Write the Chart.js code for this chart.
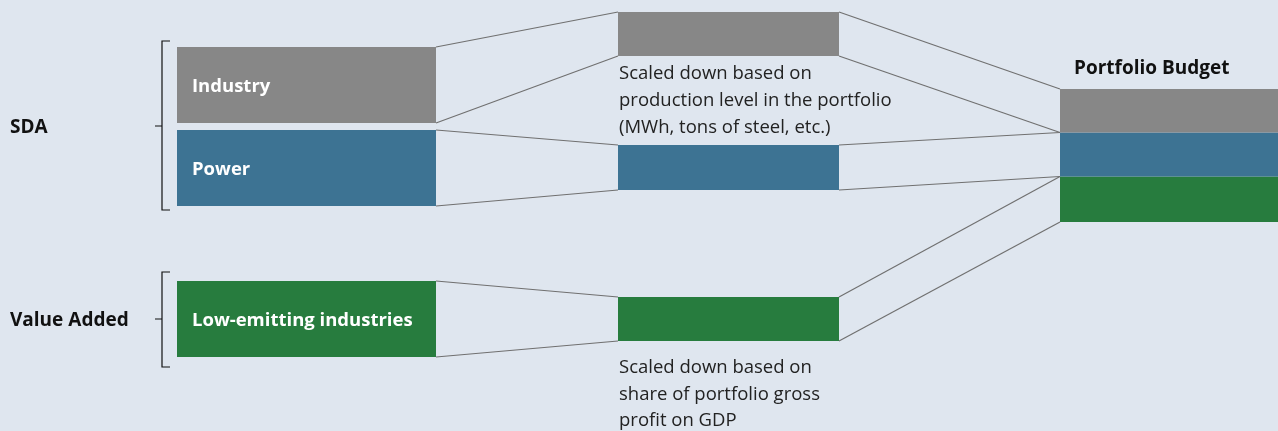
<!DOCTYPE html>
<html>
<head>
<meta charset="utf-8">
<script src="https://cdn.jsdelivr.net/npm/chart.js@4.4.1/dist/chart.umd.min.js"></script>
<style>
  html, body { margin: 0; background: #dfe6ef; }
  #wrap { width: 1278px; height: 431px; position: relative; }
</style>
</head>
<body>
<div id="wrap"><canvas id="chart"></canvas></div>
<script>
// sectors, top to bottom
const sectors = ['Industry', 'Power', 'Low-emitting industries'];
const sectorColors = ['#878787', '#3d7393', '#277c3e'];

// block extents in diagram units (x range per column, y top/bottom per sector)
const sectorX = [177, 436];
const sectorTop = [47, 130, 281];
const sectorBottom = [123, 206, 357];

const scaledX = [618, 839];
const scaledTop = [12, 145, 297];
const scaledBottom = [56, 190, 341];

const budgetX = [1060, 1278];
const budgetTop = [89, 132.5, 176.5];
const budgetBottom = [132.5, 176.5, 222];

// approaches (brackets on the left)
const groups = ['SDA', 'Value Added'];
const groupTop = [41, 272];
const groupBottom = [210, 367];
const groupMid = [126, 319];

const budgetTitle = 'Portfolio Budget';
const noteSda = ['Scaled down based on', 'production level in the portfolio', '(MWh, tons of steel, etc.)'];
const noteVa = ['Scaled down based on', 'share of portfolio gross', 'profit on GDP'];

const LINE = '#707070';
const FONT = '"Open Sans", "Noto Sans", sans-serif';

function rect(x, top, bottom, color) {
  const base = { type: 'line', borderWidth: 0, pointRadius: 0, tension: 0, backgroundColor: color, borderColor: color };
  return [
    { ...base, data: [{ x: x[0], y: top }, { x: x[1], y: top }], fill: false },
    { ...base, data: [{ x: x[0], y: bottom }, { x: x[1], y: bottom }], fill: '-1' }
  ];
}

function seg(x0, y0, x1, y1, color, width) {
  return { type: 'line', data: [{ x: x0, y: y0 }, { x: x1, y: y1 }], borderColor: color, borderWidth: width, pointRadius: 0, fill: false };
}

const datasets = [];
sectors.forEach((s, i) => {
  datasets.push(...rect(sectorX, sectorTop[i], sectorBottom[i], sectorColors[i]));
  datasets.push(...rect(scaledX, scaledTop[i], scaledBottom[i], sectorColors[i]));
  datasets.push(...rect(budgetX, budgetTop[i], budgetBottom[i], sectorColors[i]));
});

// connectors: sector -> scaled -> budget
sectors.forEach((s, i) => {
  datasets.push(seg(sectorX[1], sectorTop[i], scaledX[0], scaledTop[i], LINE, 1.2));
  datasets.push(seg(sectorX[1], sectorBottom[i], scaledX[0], scaledBottom[i], LINE, 1.2));
  datasets.push(seg(scaledX[1], scaledTop[i], budgetX[0], budgetTop[i], LINE, 1.2));
  datasets.push(seg(scaledX[1], scaledBottom[i], budgetX[0], budgetBottom[i], LINE, 1.2));
});

// brackets
groups.forEach((g, i) => {
  datasets.push({
    type: 'line',
    data: [
      { x: 170, y: groupTop[i] }, { x: 162, y: groupTop[i] },
      { x: 162, y: groupMid[i] }, { x: 155, y: groupMid[i] }, { x: 162, y: groupMid[i] },
      { x: 162, y: groupBottom[i] }, { x: 170, y: groupBottom[i] }
    ],
    borderColor: '#111', borderWidth: 1.2, pointRadius: 0, fill: false
  });
});

const textPlugin = {
  id: 'texts',
  afterDatasetsDraw(chart) {
    const { ctx, scales: { x, y } } = chart;
    const put = (txt, px, py, font, color) => {
      ctx.font = font;
      ctx.fillStyle = color;
      ctx.fillText(txt, x.getPixelForValue(px), y.getPixelForValue(py + 2));
    };
    ctx.save();
    ctx.textAlign = 'left';
    ctx.textBaseline = 'middle';
    sectors.forEach((s, i) => {
      put(s, sectorX[0] + 15, (sectorTop[i] + sectorBottom[i]) / 2, 'bold 18.5px ' + FONT, '#ffffff');
    });
    groups.forEach((g, i) => put(g, 10, groupMid[i], 'bold 19px ' + FONT, '#111111'));
    put(budgetTitle, 1074, 67, 'bold 19px ' + FONT, '#111111');
    noteSda.forEach((t, i) => put(t, scaledX[0] + 1, 72 + i * 27, '18.5px ' + FONT, '#222222'));
    noteVa.forEach((t, i) => put(t, scaledX[0] + 1, 366 + i * 26.5, '18.5px ' + FONT, '#222222'));
    ctx.restore();
  }
};

new Chart(document.getElementById('chart'), {
  type: 'line',
  data: { datasets },
  options: {
    responsive: true,
    maintainAspectRatio: false,
    animation: false,
    layout: { padding: 0 },
    plugins: { legend: { display: false }, tooltip: { enabled: false } },
    scales: {
      x: { type: 'linear', min: 0, max: 1278, display: false },
      y: { type: 'linear', min: 0, max: 431, reverse: true, display: false }
    }
  },
  plugins: [textPlugin]
});
</script>
</body>
</html>
